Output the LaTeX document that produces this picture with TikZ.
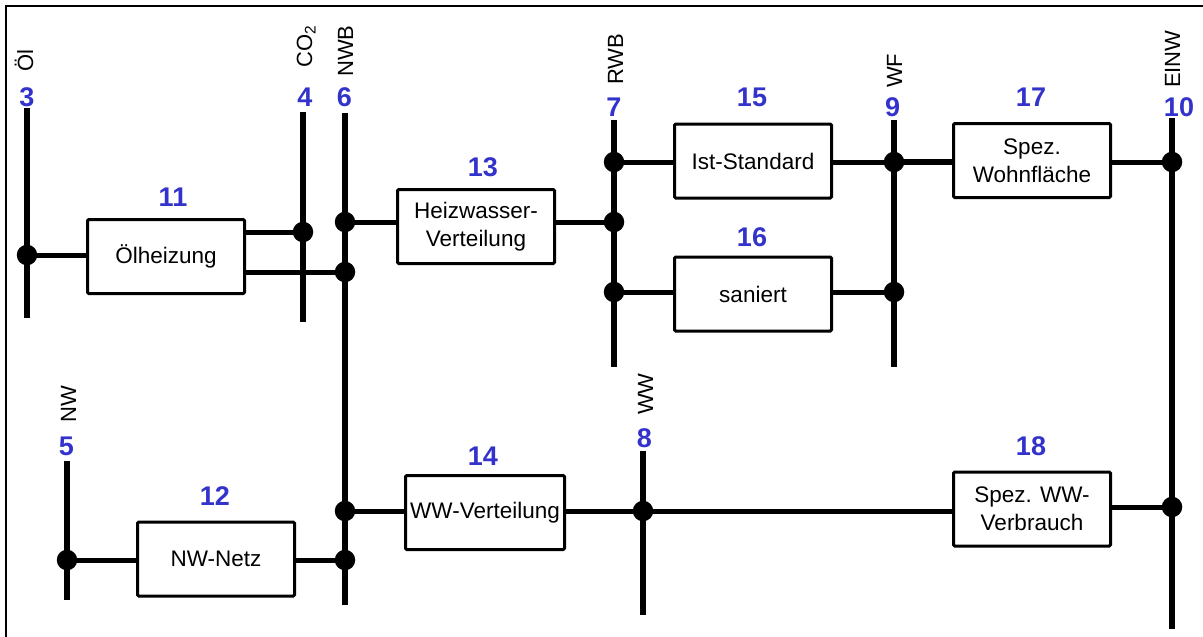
\documentclass[tikz,border=0pt]{standalone}
\usepackage{fontspec}
\setmainfont{Liberation Sans}
\definecolor{numblue}{RGB}{51,51,204}
\newcommand\boxfnt{\fontsize{22.5}{28}\selectfont}
\newcommand\lblfnt{\fontsize{22}{26}\selectfont}
\newcommand\numfnt{\fontsize{27}{32}\selectfont\bfseries}
\tikzset{
  busline/.style={line width=5.3pt},
  conn/.style={line width=5pt},
  blk/.style={draw, line width=3pt, rounded corners=1.2pt, fill=white, align=center,
              font=\boxfnt, inner sep=0pt, minimum width=157pt, minimum height=74pt},
  jn/.style={circle, fill=black, minimum size=20.5pt, inner sep=0pt},
  num/.style={text=numblue, font=\numfnt, inner sep=0pt},
  lbl/.style={rotate=90, anchor=base west, font=\lblfnt, inner sep=0pt}
}
\begin{document}
\begin{tikzpicture}[x=1pt,y=-1pt]
\useasboundingbox (0,0) rectangle (1203,637);
\draw[line width=2pt] (5.5,640) -- (5.5,5.5) -- (1204,5.5);

% bus end points
\coordinate (b3t) at (27,108);  \coordinate (b3b) at (27,318);
\coordinate (b4t) at (303,112); \coordinate (b4b) at (303,322);
\coordinate (b6t) at (345,113); \coordinate (b6b) at (345,605);
\coordinate (b7t) at (614,120); \coordinate (b7b) at (614,367);
\coordinate (b9t) at (894,120); \coordinate (b9b) at (894,367);
\coordinate (b10t) at (1172,118); \coordinate (b10b) at (1172,629);
\coordinate (b5t) at (67,461);  \coordinate (b5b) at (67,600);
\coordinate (b8t) at (643,451); \coordinate (b8b) at (643,615);

\draw[busline] (b3t) -- (b3b);
\draw[busline] (b4t) -- (b4b);
\draw[busline] (b6t) -- (b6b);
\draw[busline] (b7t) -- (b7b);
\draw[busline] (b9t) -- (b9b);
\draw[busline] (b10t) -- (b10b);
\draw[busline] (b5t) -- (b5b);
\draw[busline] (b8t) -- (b8b);

% bus numbers and labels
\node[num] (n3) at (27,97) {3};
\node[num] (n4) at (305,97) {4};
\node[num] (n6) at (344.5,97) {6};
\node[num] (n7) at (614,107.5) {7};
\node[num] (n9) at (892.5,107.5) {9};
\node[num] (n10) at (1179,107.5) {10};
\node[num] (n5) at (66.5,446) {5};
\node[num] (n8) at (644.5,438) {8};

\node[lbl] (l3) at (33,72) {Öl};
\node[lbl] (l4) at (312,68) {CO\textsubscript{2}};
\node[lbl] (l6) at (353,77) {NWB};
\node[lbl] (l7) at (623,85) {RWB};
\node[lbl] (l9) at (902,88) {WF};
\node[lbl] (l10) at (1180,88) {EINW};
\node[lbl] (l5) at (76,423) {NW};
\node[lbl] (l8) at (653,415) {WW};

% blocks
\node[blk] (b11) at (166,256.5) {Ölheizung};
\node[blk] (b13) at (476,226.5) {Heizwasser-\\Verteilung};
\node[blk] (b15) at (753,161) {Ist-Standard};
\node[blk] (b16) at (753,294) {saniert};
\node[blk] (b17) at (1032,160.5) {Spez.\\Wohnfläche};
\node[blk] (b12) at (216,559) {NW-Netz};
\node[blk, minimum width=159pt] (b14) at (485,512.5) {WW-Verteilung};
\node[blk] (b18) at (1032,509) {Spez. WW-\\Verbrauch};

\node[num] (n11) at (173,197.5) {11};
\node[num] (n13) at (483,167.5) {13};
\node[num] (n15) at (752,97) {15};
\node[num] (n16) at (752,237) {16};
\node[num] (n17) at (1031,97) {17};
\node[num] (n12) at (215,496) {12};
\node[num] (n14) at (483,456) {14};
\node[num] (n18) at (1031,446) {18};

% junctions
\node[jn] (j3) at (27,255) {};
\node[jn] (j4) at (303,232) {};
\node[jn] (j6a) at (345,222) {};
\node[jn] (j6b) at (345,272) {};
\node[jn] (j6c) at (345,511) {};
\node[jn] (j6d) at (345,560) {};
\node[jn] (j7a) at (614,162) {};
\node[jn] (j7b) at (614,222) {};
\node[jn] (j7c) at (614,292) {};
\node[jn] (j9a) at (894,162) {};
\node[jn] (j9b) at (894,292) {};
\node[jn] (j10a) at (1172,162) {};
\node[jn] (j10b) at (1172,507) {};
\node[jn] (j5) at (67,560) {};
\node[jn] (j8) at (643,511) {};

% connectors
\draw[conn] (j3.center) -- (b11.west |- j3);
\draw[conn] (b11.east |- j4) -- (j4.center);
\draw[conn] (b11.east |- j6b) -- (j6b.center);
\draw[conn] (j6a.center) -- (b13.west |- j6a);
\draw[conn] (b13.east |- j7b) -- (j7b.center);
\draw[conn] (j7a.center) -- (b15.west |- j7a);
\draw[conn] (b15.east |- j9a) -- (j9a.center);
\draw[conn] (j7c.center) -- (b16.west |- j7c);
\draw[conn] (b16.east |- j9b) -- (j9b.center);
\draw[conn, line width=6pt] (j9a.center) -- (b17.west |- j9a);
\draw[conn] (b17.east |- j10a) -- (j10a.center);
\draw[conn] (j5.center) -- (b12.west |- j5);
\draw[conn] (b12.east |- j6d) -- (j6d.center);
\draw[conn] (j6c.center) -- (b14.west |- j6c);
\draw[conn] (b14.east |- j8) -- (j8.center);
\draw[conn] (j8.center) -- (b18.west |- j8);
\draw[conn] (b18.east |- j10b) -- (j10b.center);
\end{tikzpicture}
\end{document}
